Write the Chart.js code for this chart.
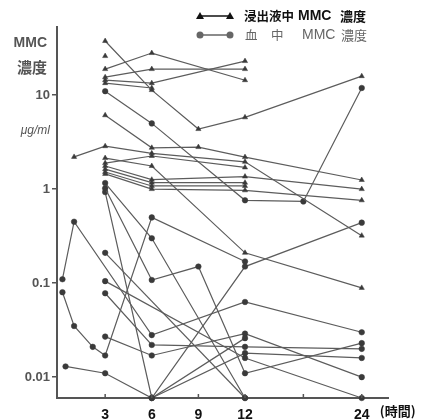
<!DOCTYPE html>
<html>
<head>
<meta charset="utf-8">
<script src="https://cdn.jsdelivr.net/npm/chart.js@4/dist/chart.umd.min.js"></script>
<style>
  html, body { margin: 0; padding: 0; background: #fff; }
  #wrap { width: 424px; height: 420px; }
</style>
</head>
<body>
<div id="wrap"><canvas id="chart" width="424" height="420"></canvas></div>
<script>
// tick labels
const xTicks = [3, 6, 9, 12, 18, 24];
const xTickLabels = ["3", "6", "9", "12", "", "24"];
const yTicks = [0.01, 0.1, 1, 10];
const yTickLabels = ["0.01", "0.1", "1", "10"];

// 浸出液中 MMC 濃度 (triangles), [hour, ug/ml]
const tA = [[3, 37.6], [6, 11.3], [9, 4.35], [12, 5.8], [24, 15.9]];
const tB = [[3, 26]];
const tC = [[3, 18.9], [6, 28], [12, 14.4]];
const tD = [[3, 15.5], [6, 18.9], [12, 18.9]];
const tE = [[3, 14.4], [6, 13.4], [12, 23]];
const tF = [[3, 13.4], [6, 11.9]];
const tG = [[3, 6.1], [6, 2.75], [9, 2.8], [12, 2.19], [24, 1.25]];
const tH = [[1, 2.2], [3, 2.86], [6, 2.4], [12, 1.95], [24, 0.32]];
const tI = [[3, 1.89], [6, 2.25], [12, 1.7]];
const tJ = [[3, 2.14], [6, 1.76], [12, 0.21], [24, 0.089]];
const tK = [[3, 1.76], [6, 1.26], [12, 1.36], [24, 1.0]];
const tL = [[3, 1.63], [6, 1.17], [12, 1.17]];
const tM = [[3, 1.52], [6, 1.08], [12, 1.08]];
const tN = [[3, 1.45], [6, 1.0], [12, 0.97], [24, 0.76]];

// 血中 MMC 濃度 (circles)
const cA = [[3, 11], [6, 5.0], [12, 0.76], [18, 0.74], [24, 11.9]];
const cB = [[3, 1.16], [6, 0.30], [12, 0.006]];
const cC = [[3, 1.02], [6, 0.108], [9, 0.15], [12, 0.011], [24, 0.023]];
const cD = [[3, 0.93], [6, 0.006], [12, 0.15], [24, 0.44]];
const cE = [[0.25, 0.08], [1, 0.035], [2.2, 0.021], [3, 0.017], [6, 0.5], [12, 0.17]];
const cF = [[0.25, 0.11], [1, 0.45], [6, 0.028], [12, 0.063], [24, 0.03]];
const cG = [[3, 0.21], [12, 0.006]];
const cH = [[3, 0.105], [12, 0.016], [24, 0.006]];
const cI = [[3, 0.078], [6, 0.022], [12, 0.021], [24, 0.02]];
const cJ = [[3, 0.027], [6, 0.017], [12, 0.029], [24, 0.01]];
const cK = [[0.45, 0.013], [3, 0.011], [6, 0.006], [12, 0.026]];
const cL = [[6, 0.006], [12, 0.018], [24, 0.016]];

const triSeries = [tA, tB, tC, tD, tE, tF, tG, tH, tI, tJ, tK, tL, tM, tN];
const circSeries = [cA, cB, cC, cD, cE, cF, cG, cH, cI, cJ, cK, cL];

// time axis is compressed after 12 h
const BREAK = 12;
const SPLIT = 0.568;

class BrokenScale extends Chart.LinearScale {
  getPixelForValue(value) {
    if (value === null || isNaN(value)) return NaN;
    let d;
    if (value <= BREAK) d = (value - this.min) / (BREAK - this.min) * SPLIT;
    else d = SPLIT + (value - BREAK) / (this.max - BREAK) * (1 - SPLIT);
    return this.getPixelForDecimal(d);
  }
  getValueForPixel(pixel) {
    const d = this.getDecimalForPixel(pixel);
    if (d <= SPLIT) return this.min + d / SPLIT * (BREAK - this.min);
    return BREAK + (d - SPLIT) / (1 - SPLIT) * (this.max - BREAK);
  }
}
BrokenScale.id = "broken";
BrokenScale.defaults = Chart.LinearScale.defaults;
Chart.register(BrokenScale);

const lineColor = "#5c5c5c";
const dotColor = "#3a3a3a";

function makeSet(points, style) {
  return {
    data: points.map(p => ({ x: p[0], y: p[1] })),
    borderColor: lineColor,
    borderWidth: 1.2,
    pointStyle: style,
    pointRadius: style === "triangle" ? 3 : 2.8,
    pointBackgroundColor: dotColor,
    pointBorderColor: dotColor,
    pointBorderWidth: 0.5,
    tension: 0,
    clip: false
  };
}

const datasets = [
  ...triSeries.map(s => makeSet(s, "triangle")),
  ...circSeries.map(s => makeSet(s, "circle"))
];

const cjk = "'Noto Sans CJK JP', sans-serif";
const latin = "'Liberation Sans', Arial, sans-serif";

// legend, axis titles and inner x ticks
const decor = {
  id: "decor",
  afterDraw(c) {
    const ctx = c.ctx;
    const x = c.scales.x;
    const a = c.chartArea;
    ctx.save();

    // small inward ticks on x axis
    ctx.strokeStyle = "#555";
    ctx.lineWidth = 1.5;
    xTicks.forEach(v => {
      const px = x.getPixelForValue(v);
      ctx.beginPath();
      ctx.moveTo(px, a.bottom);
      ctx.lineTo(px, a.bottom - 4);
      ctx.stroke();
    });

    // y axis title
    ctx.fillStyle = "#555";
    ctx.textAlign = "right";
    ctx.textBaseline = "middle";
    ctx.font = "bold 14px " + latin;
    ctx.fillText("MMC", 47, 43);
    ctx.font = "bold 15px " + cjk;
    ctx.fillText("濃度", 47, 67);
    ctx.font = "italic 12px " + latin;
    ctx.fillText("μg/ml", 50, 131);

    // x unit
    ctx.fillStyle = "#111";
    ctx.textAlign = "left";
    ctx.font = "bold 13px " + cjk;
    ctx.fillText("(時間)", x.getPixelForValue(24) + 18, 411);

    // legend row 1 (triangles)
    ctx.strokeStyle = "#111";
    ctx.fillStyle = "#111";
    ctx.lineWidth = 1.5;
    ctx.beginPath();
    ctx.moveTo(200, 16);
    ctx.lineTo(230, 16);
    ctx.stroke();
    [200, 230].forEach(px => {
      ctx.beginPath();
      ctx.moveTo(px, 12);
      ctx.lineTo(px + 4, 19);
      ctx.lineTo(px - 4, 19);
      ctx.closePath();
      ctx.fill();
    });
    ctx.font = "bold 12.5px " + cjk;
    ctx.fillText("浸出液中", 244, 16);
    ctx.font = "bold 14px " + latin;
    ctx.fillText("MMC", 298, 16);
    ctx.font = "bold 13px " + cjk;
    ctx.fillText("濃度", 340, 16);

    // legend row 2 (circles)
    ctx.strokeStyle = "#666";
    ctx.fillStyle = "#666";
    ctx.beginPath();
    ctx.moveTo(200, 35);
    ctx.lineTo(230, 35);
    ctx.stroke();
    [200, 230].forEach(px => {
      ctx.beginPath();
      ctx.arc(px, 35, 3.5, 0, Math.PI * 2);
      ctx.fill();
    });
    ctx.font = "12.5px " + cjk;
    ctx.fillText("血", 245, 35);
    ctx.fillText("中", 271, 35);
    ctx.font = "14px " + latin;
    ctx.fillText("MMC", 302, 35);
    ctx.font = "13px " + cjk;
    ctx.fillText("濃度", 341, 35);

    ctx.restore();
  }
};

new Chart(document.getElementById("chart"), {
  type: "line",
  data: { datasets: datasets },
  options: {
    responsive: false,
    animation: false,
    layout: { padding: { left: 2, right: 36, top: 27, bottom: 0 } },
    plugins: { legend: { display: false }, tooltip: { enabled: false } },
    scales: {
      x: {
        type: "broken",
        min: -0.1,
        max: 26.7,
        afterBuildTicks: axis => { axis.ticks = xTicks.map(v => ({ value: v })); },
        afterFit: axis => { axis.height = 22; },
        grid: { display: false },
        border: { display: true, color: "#555", width: 2 },
        ticks: {
          autoSkip: false,
          maxRotation: 0,
          padding: 1,
          color: "#111",
          font: { family: latin, size: 14, weight: "bold" },
          callback: v => xTickLabels[xTicks.indexOf(v)]
        }
      },
      y: {
        type: "logarithmic",
        min: 0.006,
        max: 53,
        afterBuildTicks: axis => { axis.ticks = yTicks.map(v => ({ value: v })); },
        afterFit: axis => { axis.width = 55; },
        grid: { display: true, drawOnChartArea: false, drawTicks: true, tickLength: 5, color: "#555", lineWidth: 1.5 },
        border: { display: true, color: "#555", width: 2 },
        ticks: {
          padding: 2,
          color: "#555",
          font: { family: latin, size: 13, weight: "bold" },
          callback: v => yTickLabels[yTicks.indexOf(v)]
        }
      }
    }
  },
  plugins: [decor]
});
</script>
</body>
</html>
